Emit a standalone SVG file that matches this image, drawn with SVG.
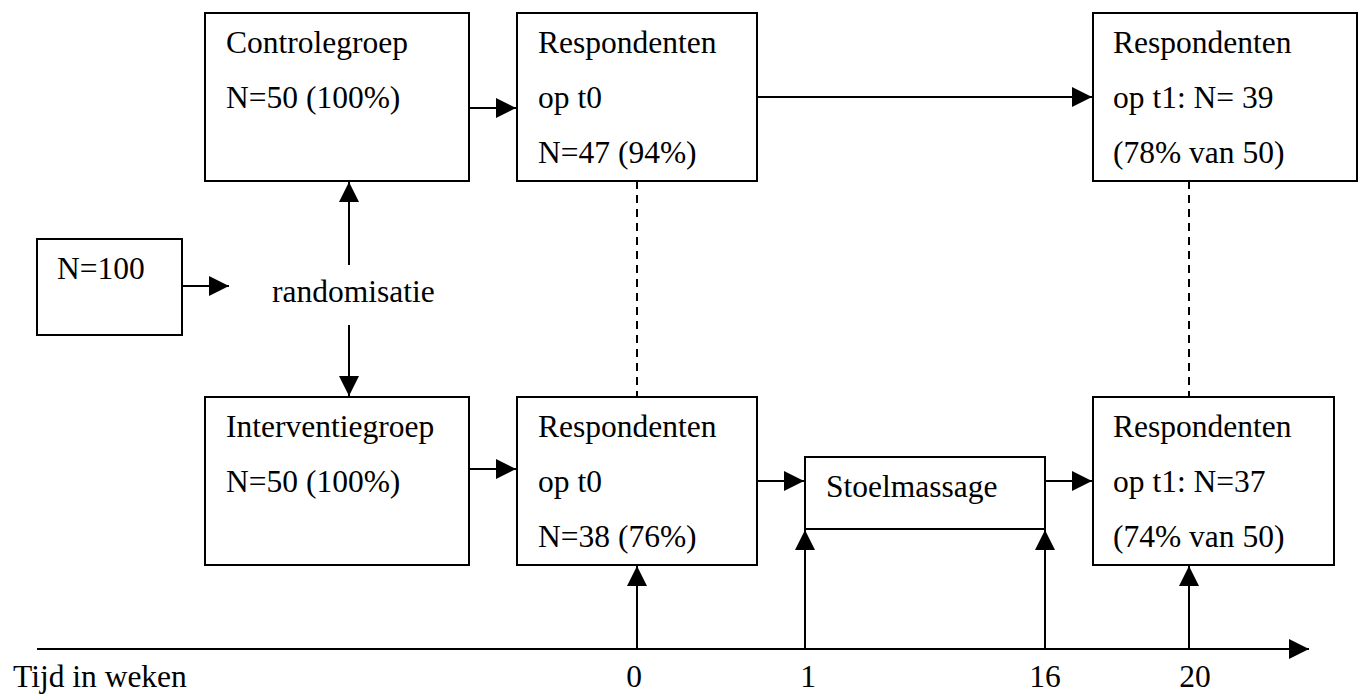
<svg xmlns="http://www.w3.org/2000/svg" width="1365" height="698" viewBox="0 0 1365 698">
<style>
.box{fill:#fff;stroke:#000;stroke-width:2}
.t{font-family:"Liberation Serif","Times New Roman",serif;font-size:31.5px;fill:#000}
.ln{stroke:#000;stroke-width:2;fill:none}
.dash{stroke:#000;stroke-width:2;fill:none;stroke-dasharray:8,6}
</style>
<defs>
<marker id="ah" markerUnits="userSpaceOnUse" markerWidth="20" markerHeight="20" viewBox="0 0 20 20" refX="20" refY="10" orient="auto">
<path d="M0,0 L20,10 L0,20 Z" fill="#000"/>
</marker>
</defs>
<rect width="1365" height="698" fill="#fff"/>
<g id="connectors">
<line class="ln" x1="182" y1="286" x2="229" y2="286" marker-end="url(#ah)"/>
<line class="ln" x1="349" y1="265" x2="349" y2="182" marker-end="url(#ah)"/>
<line class="ln" x1="349" y1="325" x2="349" y2="396" marker-end="url(#ah)"/>
<line class="ln" x1="469" y1="108" x2="516" y2="108" marker-end="url(#ah)"/>
<line class="ln" x1="469" y1="469" x2="516" y2="469" marker-end="url(#ah)"/>
<line class="ln" x1="757" y1="97" x2="1092" y2="97" marker-end="url(#ah)"/>
<line class="ln" x1="757" y1="481" x2="804" y2="481" marker-end="url(#ah)"/>
<line class="ln" x1="1045" y1="481" x2="1092" y2="481" marker-end="url(#ah)"/>
<line class="dash" x1="637" y1="181" x2="637" y2="397"/>
<line class="dash" x1="1189" y1="181" x2="1189" y2="397"/>
<line class="ln" x1="37" y1="649" x2="1309" y2="649" marker-end="url(#ah)"/>
<line class="ln" x1="637" y1="649" x2="637" y2="566" marker-end="url(#ah)"/>
<line class="ln" x1="805" y1="649" x2="805" y2="530" marker-end="url(#ah)"/>
<line class="ln" x1="1045" y1="649" x2="1045" y2="530" marker-end="url(#ah)"/>
<line class="ln" x1="1189" y1="649" x2="1189" y2="566" marker-end="url(#ah)"/>
</g>
<g id="n100">
<rect class="box" x="37" y="239" width="145" height="96"/>
<text class="t" x="57" y="279">N=100</text>
</g>
<g id="randomisatie">
<text class="t" x="272" y="302">randomisatie</text>
</g>
<g id="controlegroep">
<rect class="box" x="205" y="13" width="264" height="168"/>
<text class="t" x="226" y="53">Controlegroep</text>
<text class="t" x="226" y="108">N=50 (100%)</text>
</g>
<g id="resp-c-t0">
<rect class="box" x="517" y="13" width="240" height="168"/>
<text class="t" x="538" y="53">Respondenten</text>
<text class="t" x="538" y="108">op t0</text>
<text class="t" x="538" y="163">N=47 (94%)</text>
</g>
<g id="resp-c-t1">
<rect class="box" x="1093" y="13" width="264" height="168"/>
<text class="t" x="1113" y="53">Respondenten</text>
<text class="t" x="1113" y="108">op t1: N= 39</text>
<text class="t" x="1113" y="163">(78% van 50)</text>
</g>
<g id="interventiegroep">
<rect class="box" x="205" y="397" width="264" height="168"/>
<text class="t" x="226" y="437">Interventiegroep</text>
<text class="t" x="226" y="492">N=50 (100%)</text>
</g>
<g id="resp-i-t0">
<rect class="box" x="517" y="397" width="240" height="168"/>
<text class="t" x="538" y="437">Respondenten</text>
<text class="t" x="538" y="492">op t0</text>
<text class="t" x="538" y="547">N=38 (76%)</text>
</g>
<g id="stoelmassage">
<rect class="box" x="805" y="457" width="240" height="72"/>
<text class="t" x="826" y="497">Stoelmassage</text>
</g>
<g id="resp-i-t1">
<rect class="box" x="1093" y="397" width="241" height="168"/>
<text class="t" x="1113" y="437">Respondenten</text>
<text class="t" x="1113" y="492">op t1: N=37</text>
<text class="t" x="1113" y="547">(74% van 50)</text>
</g>
<g id="axis-labels">
<text class="t" x="13" y="687">Tijd in weken</text>
<text class="t" x="634" y="687" text-anchor="middle">0</text>
<text class="t" x="808" y="687" text-anchor="middle">1</text>
<text class="t" x="1045" y="687" text-anchor="middle">16</text>
<text class="t" x="1195" y="687" text-anchor="middle">20</text>
</g>
</svg>
